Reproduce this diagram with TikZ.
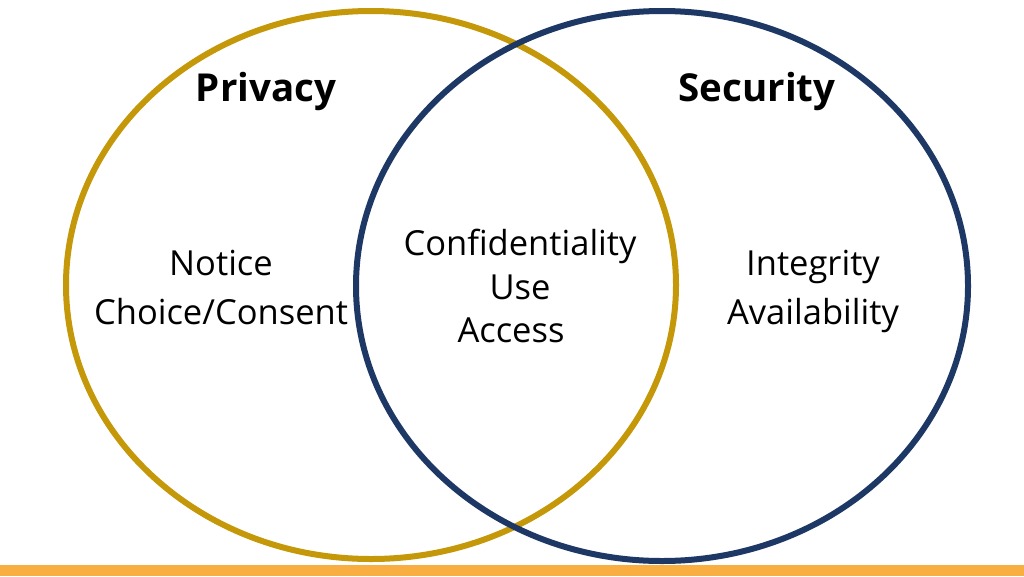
\documentclass[tikz,border=0pt]{standalone}
\usepackage{fontspec}
\setmainfont{Open Sans}
\definecolor{goldc}{RGB}{196,152,8}
\definecolor{bluec}{RGB}{30,56,102}
\definecolor{barc}{RGB}{248,174,64}
\begin{document}
\begin{tikzpicture}[x=1pt,y=-1pt,
  ring/.style={line width=6pt},
  title/.style={font=\fontsize{38.5}{44}\selectfont\bfseries, text=black},
  body/.style={font=\fontsize{34.5}{49}\selectfont, align=center, text=black},
  bodymid/.style={font=\fontsize{34.5}{43.5}\selectfont, align=center, text=black}]
\useasboundingbox (0,0) rectangle (1024,576);
\fill[white] (0,0) rectangle (1024,576);
\fill[barc] (0,565) rectangle (1024,576) coordinate (barend);
\draw[ring, goldc] (371,285) ellipse [x radius=305, y radius=274];
\draw[ring, bluec] (662,286) ellipse [x radius=306, y radius=275];
\node[title] (priv) at (266,91) {Privacy};
\node[title] (sec) at (757,91) {Security};
\node[body] (left) at (221,288) {Notice\\Choice/Consent};
\node[bodymid] (mid) at (520,286) {Confidentiality\\Use\hspace*{18pt}\\Access\hspace*{18pt}};
\node[body] (right) at (813,291) {Integrity\\Availability};
\end{tikzpicture}
\end{document}
